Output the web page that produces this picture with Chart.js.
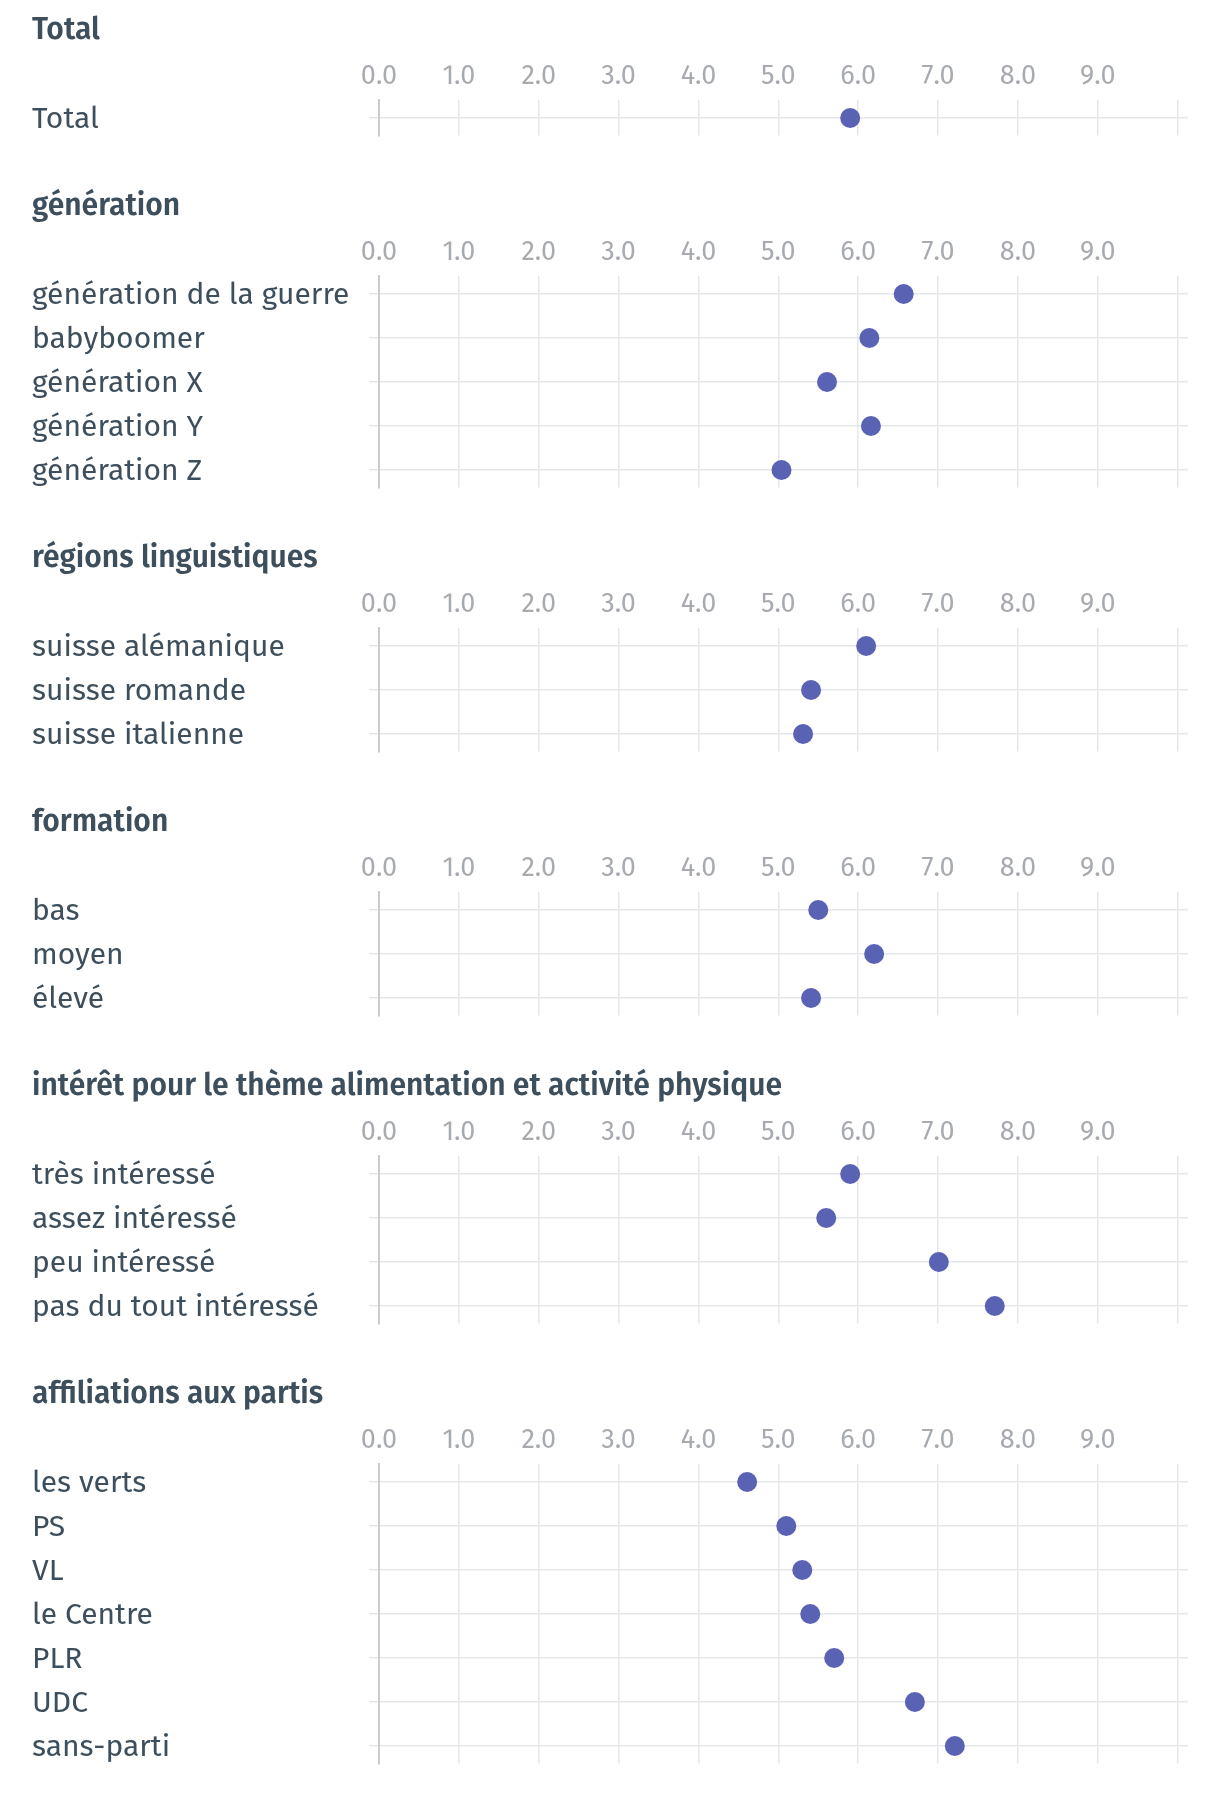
<!DOCTYPE html>
<html>
<head>
<meta charset="utf-8">
<script src="https://cdn.jsdelivr.net/npm/chart.js@4.4.0/dist/chart.umd.min.js"></script>
<style>
  body { margin: 0; padding-top: 8px; background: #fff; width: 1220px; }
  .sec { position: relative; width: 1220px; }
</style>
</head>
<body>
<div id="wrap"></div>
<script>
'use strict';

// Données
const totalLabels = ['Total'];
const totalValues = [5.9];

const generationLabels = ['génération de la guerre', 'babyboomer', 'génération X', 'génération Y', 'génération Z'];
const generationValues = [6.57, 6.14, 5.61, 6.16, 5.04];

const regionLabels = ['suisse alémanique', 'suisse romande', 'suisse italienne'];
const regionValues = [6.10, 5.41, 5.31];

const formationLabels = ['bas', 'moyen', 'élevé'];
const formationValues = [5.50, 6.20, 5.41];

const interetLabels = ['très intéressé', 'assez intéressé', 'peu intéressé', 'pas du tout intéressé'];
const interetValues = [5.90, 5.60, 7.01, 7.71];

const partiLabels = ['les verts', 'PS', 'VL', 'le Centre', 'PLR', 'UDC', 'sans-parti'];
const partiValues = [4.61, 5.10, 5.30, 5.40, 5.70, 6.71, 7.21];

const xTicks      = [0, 1, 2, 3, 4, 5, 6, 7, 8, 9, 10];
const xTickLabels = ['0.0', '1.0', '2.0', '3.0', '4.0', '5.0', '6.0', '7.0', '8.0', '9.0', ''];

const sections = [
  { title: 'Total',                                                   labels: totalLabels,      values: totalValues },
  { title: 'génération',                                              labels: generationLabels, values: generationValues },
  { title: 'régions linguistiques',                                   labels: regionLabels,     values: regionValues },
  { title: 'formation',                                               labels: formationLabels,  values: formationValues },
  { title: 'intérêt pour le thème alimentation et activité physique', labels: interetLabels,    values: interetValues },
  { title: 'affiliations aux partis',                                 labels: partiLabels,      values: partiValues },
];

const FONT    = "'Fira Sans', Roboto, sans-serif";
const DARK    = '#3d4f5d';
const GREY    = '#a7abb0';
const GRID    = '#e6e7ea';
const DOT     = '#5a63b3';
const ROW     = 44;

function renderSection(sec) {
  const n = sec.labels.length;
  const div = document.createElement('div');
  div.className = 'sec';
  div.style.height = (176 + (n - 1) * ROW) + 'px';
  const canvas = document.createElement('canvas');
  div.appendChild(canvas);
  document.getElementById('wrap').appendChild(div);

  new Chart(canvas, {
    type: 'scatter',
    data: {
      datasets: [{
        data: sec.values.map((v, i) => ({ x: v, y: i })),
        backgroundColor: DOT,
        borderWidth: 0,
        pointRadius: 10,
        pointHoverRadius: 10,
      }],
    },
    options: {
      responsive: true,
      maintainAspectRatio: false,
      animation: false,
      events: [],
      layout: { padding: { left: 32, right: 32, top: 0, bottom: 48.4 } },
      plugins: {
        legend: { display: false },
        tooltip: { enabled: false },
        title: {
          display: true,
          text: sec.title,
          align: 'start',
          color: DARK,
          font: { family: FONT, size: 30, weight: '600', lineHeight: 1.2 },
          padding: { top: 4.3, bottom: 2.1 },
        },
      },
      scales: {
        x: {
          type: 'linear',
          position: 'top',
          min: 0,
          max: 10.13,
          afterBuildTicks: s => { s.ticks = xTicks.map(v => ({ value: v })); },
          afterFit: s => { s.height = 50; },
          ticks: {
            color: GREY,
            font: { family: FONT, size: 27 },
            padding: 8.1,
            maxRotation: 0,
            callback: (v, i) => xTickLabels[i],
          },
          grid: { color: GRID, lineWidth: 1.5, drawTicks: false },
          border: { display: false },
        },
        y: {
          type: 'linear',
          reverse: true,
          min: -0.4,
          max: n - 1 + 0.4,
          afterBuildTicks: s => { s.ticks = sec.labels.map((_, i) => ({ value: i })); },
          afterFit: s => { s.width = 379 - 32; },
          ticks: {
            color: DARK,
            font: { family: FONT, size: 30, lineHeight: '3px' },
            crossAlign: 'far',
            // ligne vide devant : abaisse légèrement le libellé comme sur l'original
            callback: v => ['', sec.labels[v]],
          },
          grid: { color: GRID, lineWidth: 1.5, drawTicks: true, tickLength: 10 },
          border: { display: true, color: '#c9ccd0', width: 2 },
        },
      },
    },
  });
}

sections.forEach(renderSection);
</script>
</body>
</html>
